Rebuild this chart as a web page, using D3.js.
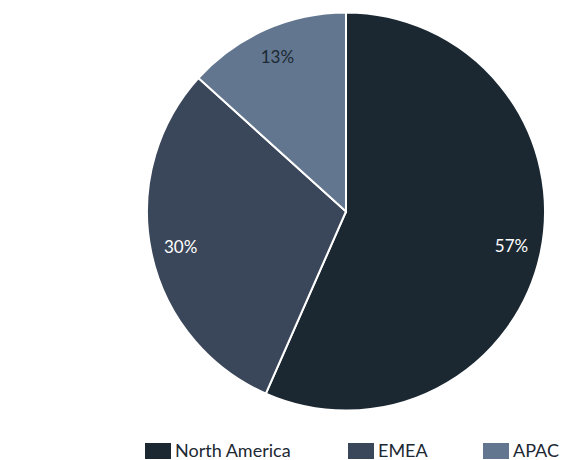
<!DOCTYPE html>
<html><head><meta charset="utf-8">
<script src="https://cdn.jsdelivr.net/npm/d3@7"></script>
<style>body{margin:0;background:#fff}svg{display:block;font-family:Lato,sans-serif}</style>
</head><body>
<svg id="c" width="562" height="460"></svg>
<script>
const categories = ["North America", "EMEA", "APAC"];
const values = [56.6, 30.1, 13.3];
const colors = ["#1b2832", "#3a4659", "#62768f"];
const labelColors = ["#ffffff", "#ffffff", "#1b2832"];

const svg = d3.select("#c");
const cx = 346, cy = 211.5, R = 199;
const total = d3.sum(values);
const pie = d3.pie().sort(null).value(d => d)(values);
const arc = d3.arc().innerRadius(0).outerRadius(R);
const labelArc = d3.arc().innerRadius(R * 0.85).outerRadius(R * 0.85);
const g = svg.append("g").attr("transform", `translate(${cx},${cy})`);
g.selectAll("path").data(pie).join("path")
  .attr("d", arc).attr("fill", (d, i) => colors[i])
  .attr("stroke", "#fff").attr("stroke-width", 2);
g.selectAll("text").data(pie).join("text")
  .attr("transform", d => `translate(${labelArc.centroid(d)})`)
  .attr("text-anchor", "middle").attr("dy", "0.35em")
  .attr("font-size", 17).attr("fill", (d, i) => labelColors[i])
  .text(d => Math.round(d.value / total * 100) + "%");

const legendX = [145, 348, 483];
const lg = svg.append("g");
categories.forEach((c, i) => {
  lg.append("rect").attr("x", legendX[i]).attr("y", 443).attr("width", 26).attr("height", 16).attr("fill", colors[i]);
  lg.append("text").attr("x", legendX[i] + 30).attr("y", 451).attr("dy", "0.35em")
    .attr("font-size", 18).attr("fill", "#1b2832").text(c);
});
</script>
</body></html>
